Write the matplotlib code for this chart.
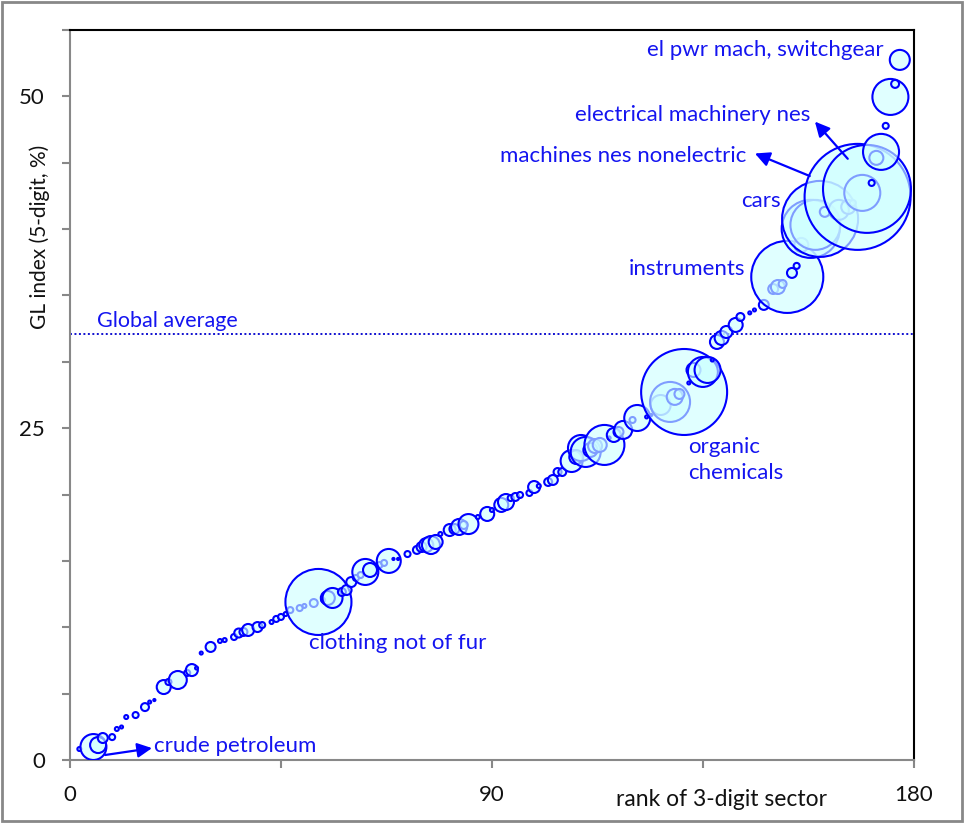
import matplotlib.pyplot as plt
import numpy as np
from matplotlib.patches import Rectangle
from matplotlib.transforms import blended_transform_factory

plt.rcParams['font.family'] = ['Lato', 'DejaVu Sans']

# rank of 3-digit sector (only the bubbles that are visible)
rank = [2, 5, 6, 7, 9, 10, 11, 12, 14, 16, 17, 18, 20, 21, 23, 25, 26, 27, 28, 30,
        32, 33, 35, 36, 37, 38, 40, 41, 43, 44, 45, 46, 47, 49, 50, 52, 53, 54, 55, 56,
        58, 59, 60, 61, 62, 63, 64, 66, 67, 68, 69, 70, 72, 74, 75, 76, 77, 78, 79, 81,
        82, 83, 84, 85, 87, 89, 90, 92, 93, 94, 95, 96, 98, 99, 100, 102, 103, 104, 105, 107,
        108, 109, 110, 111, 112, 113, 114, 115, 116, 117, 118, 120, 121, 123, 124, 126, 128, 129, 130, 131,
        132, 133, 135, 136, 137, 138, 139, 140, 142, 143, 145, 146, 148, 150, 151, 152, 153, 154, 155, 156,
        158, 159, 160, 161, 164, 166, 167, 168, 169, 170, 171, 172, 173, 174, 175, 176, 177]

# GL index (5-digit, %)
gl_index = [0.83, 0.98, 1.13, 1.66, 1.73, 2.34, 2.49, 3.24, 3.39, 3.99, 4.37, 4.52, 5.50, 5.88, 6.03, 6.56, 6.78, 6.93, 8.06, 8.52,
            8.97, 9.04, 9.27, 9.57, 9.65, 9.80, 10.02, 10.17, 10.40, 10.63, 10.78, 11.00, 11.30, 11.45, 11.61, 11.83, 11.91, 12.06, 12.21, 12.21,
            12.66, 12.81, 13.41, 13.72, 13.94, 14.17, 14.32, 14.69, 14.85, 15.00, 15.15, 15.15, 15.52, 15.83, 16.05, 16.20, 16.20, 16.43, 17.03, 17.33,
            17.41, 17.56, 17.71, 17.78, 18.31, 18.54, 18.84, 19.22, 19.44, 19.74, 19.82, 19.97, 20.12, 20.57, 20.65, 20.95, 21.10, 21.70, 21.70, 22.53,
            22.83, 23.51, 23.21, 23.36, 23.66, 23.74, 23.74, 24.27, 24.49, 24.72, 24.87, 25.62, 25.77, 25.85, 26.00, 26.75, 26.98, 27.36, 27.58, 27.73,
            28.41, 29.39, 29.24, 29.39, 30.14, 31.50, 31.80, 32.25, 32.78, 33.38, 33.69, 33.91, 34.29, 35.49, 35.64, 35.87, 36.40, 36.70, 37.23, 38.81,
            40.02, 40.32, 40.77, 41.30, 41.45, 41.67, 41.97, 42.43, 42.73, 43.03, 43.48, 45.37, 45.82, 47.78, 49.96, 50.94, 52.75]

# share of world trade (%), sets bubble area
trade_share = [0.007, 0.30, 0.114, 0.044, 0.016, 0.007, 0.004, 0.007, 0.016, 0.028, 0.004, 0.002, 0.087, 0.016, 0.144, 0.016, 0.064, 0.004, 0.004, 0.044,
               0.007, 0.007, 0.016, 0.036, 0.028, 0.064, 0.044, 0.016, 0.007, 0.016, 0.016, 0.007, 0.016, 0.016, 0.007, 0.028, 1.94, 0.007, 0.087, 0.178,
               0.028, 0.044, 0.044, 0.016, 0.016, 0.301, 0.087, 0.016, 0.016, 0.256, 0.002, 0.002, 0.016, 0.028, 0.044, 0.087, 0.144, 0.087, 0.007, 0.064,
               0.044, 0.114, 0.028, 0.178, 0.007, 0.087, 0.007, 0.087, 0.114, 0.016, 0.028, 0.016, 0.016, 0.064, 0.007, 0.028, 0.044, 0.028, 0.028, 0.215,
               0.087, 0.301, 0.40, 0.087, 0.087, 0.087, 0.712, 0.004, 0.087, 0.044, 0.144, 0.016, 0.301, 0.004, 0.002, 0.178, 0.712, 0.114, 0.044, 3.29,
               0.004, 0.087, 0.40, 0.301, 0.004, 0.087, 0.087, 0.064, 0.087, 0.028, 0.004, 0.004, 0.044, 0.044, 0.087, 0.028, 2.31, 0.044, 0.016, 0.087,
               1.50, 1.11, 2.57, 0.044, 0.178, 0.087, 0.016, 5.00, 0.577, 3.44, 0.016, 0.087, 0.577, 0.016, 0.577, 0.028, 0.178]

global_avg = 32.1

# sector labels: text, x, y, alignment
label_text = ['el pwr mach, switchgear', 'electrical machinery nes', 'machines nes nonelectric',
              'cars', 'instruments', 'organic\nchemicals', 'clothing not of fur', 'crude petroleum']
label_x = [173.6, 107.7, 91.7, 143.1, 119.2, 131.8, 51.0, 17.9]
label_y = [53.5, 48.6, 45.5, 42.1, 37.0, 22.6, 8.8, 1.05]
label_ha = ['right', 'left', 'left', 'left', 'left', 'left', 'left', 'left']

# arrows: (tail x, tail y) -> (head x, head y)
arrow_from = [(7.5, 0.38), (165.9, 45.3), (157.8, 44.0)]
arrow_to = [(17.5, 0.9), (158.9, 48.1), (146.1, 45.7)]

blue = '#0000FF'
text_blue = '#1414F0'

fig = plt.figure(figsize=(9.65, 8.23), dpi=100)
ax = fig.add_axes([0.0725, 0.0765, 0.8745, 0.887])

# bubble sizes: largest share -> 53 px radius
share = np.array(trade_share)
radius_px = 53 * np.sqrt(share / share.max())
sizes = (2 * radius_px * 72 / fig.dpi) ** 2

ax.scatter(rank, gl_index, s=sizes, facecolor=(206 / 255, 1, 1, 0.62),
           edgecolor=blue, linewidth=1.5, zorder=3)

ax.axhline(global_avg, color='#1010D0', linestyle=(0, (1, 1.3)), lw=1.4, zorder=2)
ax.text(5.8, global_avg + 1.0, 'Global average', color=text_blue, fontsize=15.5,
        ha='left', va='center')

for t, x, y, ha in zip(label_text, label_x, label_y, label_ha):
    ax.text(x, y, t, color=text_blue, fontsize=16, ha=ha, va='center',
            linespacing=1.4, zorder=5)

for (x0, y0), (x1, y1) in zip(arrow_from, arrow_to):
    ax.annotate('', xy=(x1, y1), xytext=(x0, y0),
                arrowprops=dict(arrowstyle='-|>', color=blue, lw=1.6,
                                mutation_scale=22, shrinkA=0, shrinkB=0),
                zorder=6)

ax.set_xlim(0, 180)
ax.set_ylim(0, 55)
ax.set_xticks([0, 45, 90, 135, 180])
ax.set_xticklabels(['0', '', '90', '', '180'])
ax.set_yticks(range(0, 56, 5))
ax.set_yticklabels(['0' if v == 0 else ('25' if v == 25 else ('50' if v == 50 else ''))
                    for v in range(0, 56, 5)])
ax.tick_params(direction='out', length=6, width=1.5, color='#888888',
               labelsize=16, labelcolor='#111111')
ax.tick_params(axis='x', pad=12)
ax.tick_params(axis='y', pad=12)

for side in ['left', 'bottom']:
    ax.spines[side].set_color('#888888')
    ax.spines[side].set_linewidth(1.5)
for side in ['top', 'right']:
    ax.spines[side].set_color('black')
    ax.spines[side].set_linewidth(1.5)

trans = blended_transform_factory(ax.transData, ax.transAxes)
ax.text(139, -0.0545, 'rank of 3-digit sector', transform=trans, fontsize=16.5,
        color='#111111', ha='center', va='center')
ax.text(-0.0355, 0.716, 'GL index (5-digit, %)', transform=ax.transAxes, fontsize=15,
        color='#111111', ha='center', va='center', rotation=90)

fig.patches.append(Rectangle((0.002, 0.002), 0.995, 0.995, transform=fig.transFigure,
                             fill=False, edgecolor='#888888', lw=2))

fig.savefig('out.png', dpi=100)
